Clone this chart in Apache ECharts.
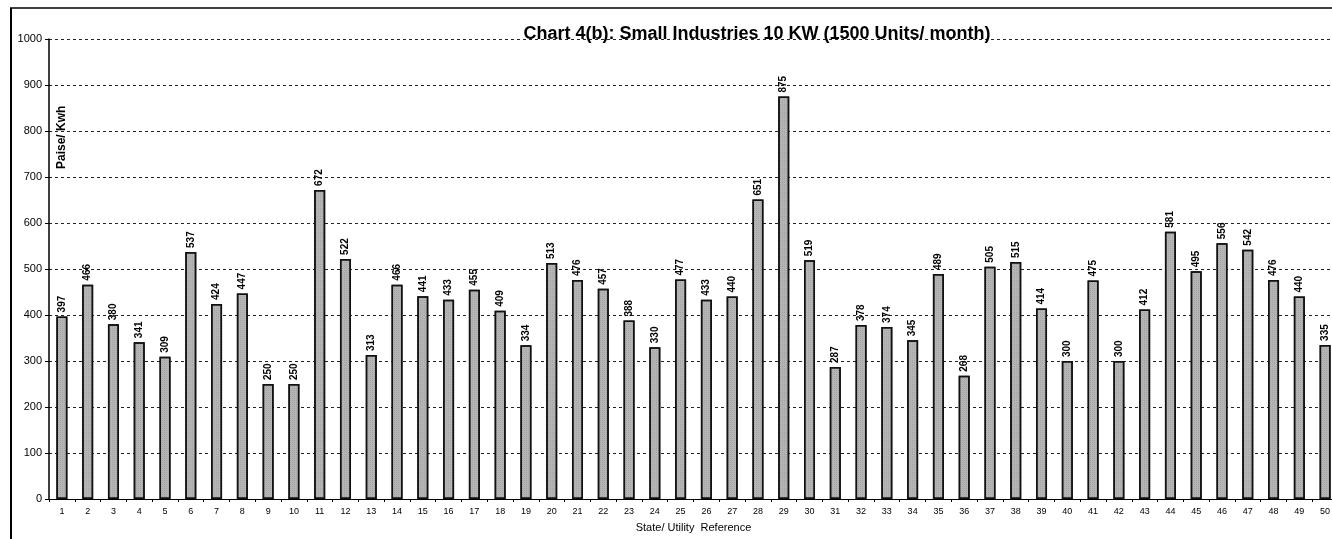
<!DOCTYPE html>
<html>
<head>
<meta charset="utf-8">
<script src="https://cdn.jsdelivr.net/npm/echarts@6/dist/echarts.min.js"></script>
<style>
html, body { margin: 0; padding: 0; background: #fff; }
#chart { width: 1332px; height: 539px; }
</style>
</head>
<body>
<div id="chart"></div>
<script>
// State/ utility reference numbers 1..50
var refs = ['1','2','3','4','5','6','7','8','9','10','11','12','13','14','15','16','17','18','19','20',
            '21','22','23','24','25','26','27','28','29','30','31','32','33','34','35','36','37','38','39','40',
            '41','42','43','44','45','46','47','48','49','50'];
// Paise/ Kwh
var tariff = [397, 466, 380, 341, 309, 537, 424, 447, 250, 250,
              672, 522, 313, 466, 441, 433, 455, 409, 334, 513,
              476, 457, 388, 330, 477, 433, 440, 651, 875, 519,
              287, 378, 374, 345, 489, 268, 505, 515, 414, 300,
              475, 300, 412, 581, 495, 556, 542, 476, 440, 335];
var yTicks = [0, 1000, 100]; // min, max, step

var font = '"Liberation Sans", Arial, sans-serif';

var chart = echarts.init(document.getElementById('chart'));
var option = {
    animation: false,
    backgroundColor: '#fff',
    title: {
        text: 'Chart 4(b): Small Industries 10 KW (1500 Units/ month)',
        left: 752,
        textAlign: 'center',
        top: 20,
        textStyle: { fontFamily: font, fontSize: 18, fontWeight: 'bold', color: '#000' }
    },
    // plot runs slightly past the right edge of the page, like the scan
    grid: { left: 49, width: 1289, top: 39, bottom: 40, outerBoundsMode: 'none' },
    xAxis: {
        type: 'category',
        data: refs,
        name: 'State/ Utility  Reference',
        nameLocation: 'middle',
        nameGap: 23,
        nameTextStyle: { fontFamily: font, fontSize: 11, color: '#000' },
        axisLine: { lineStyle: { color: '#000', width: 1 } },
        axisTick: { show: true, length: 3, lineStyle: { color: '#000' } },
        axisLabel: { fontFamily: font, fontSize: 9, color: '#000', margin: 8, interval: 0 }
    },
    yAxis: {
        type: 'value',
        min: yTicks[0],
        max: yTicks[1],
        interval: yTicks[2],
        axisLine: { show: true, lineStyle: { color: '#000', width: 1.5 } },
        axisTick: { show: true, length: 4, lineStyle: { color: '#000' } },
        axisLabel: {
            fontFamily: font, fontSize: 11, color: '#000', margin: 7,
            formatter: function (v) { return String(v); }
        },
        splitLine: { lineStyle: { color: '#222', type: [3, 3], width: 1 } }
    },
    graphic: [
        // chart frame (top and left edge)
        { type: 'line', shape: { x1: 10, y1: 8, x2: 1332, y2: 8 }, style: { stroke: '#000', lineWidth: 1.5 } },
        { type: 'line', shape: { x1: 11, y1: 8, x2: 11, y2: 539 }, style: { stroke: '#000', lineWidth: 2 } },
        {
            type: 'text', x: 56, y: 169, rotation: Math.PI / 2,
            style: { text: 'Paise/ Kwh', fontFamily: font, fontSize: 12, fontWeight: 'bold', fill: '#000' }
        }
    ],
    series: [{
        type: 'bar',
        data: tariff,
        barWidth: 11,
        itemStyle: {
            color: '#b5b5b5',
            borderColor: '#111',
            borderWidth: 1.5,
            decal: {
                symbol: 'rect', symbolSize: 0.5, color: 'rgba(50,50,50,0.5)',
                dashArrayX: [1, 1], dashArrayY: [1, 1], rotation: 0
            }
        },
        label: {
            show: true,
            position: 'top',
            rotate: 90,
            align: 'left',
            verticalAlign: 'middle',
            distance: 4,
            fontFamily: font,
            fontSize: 10,
            fontWeight: 'bold',
            color: '#000'
        }
    }]
};
chart.setOption(option);
</script>
</body>
</html>
